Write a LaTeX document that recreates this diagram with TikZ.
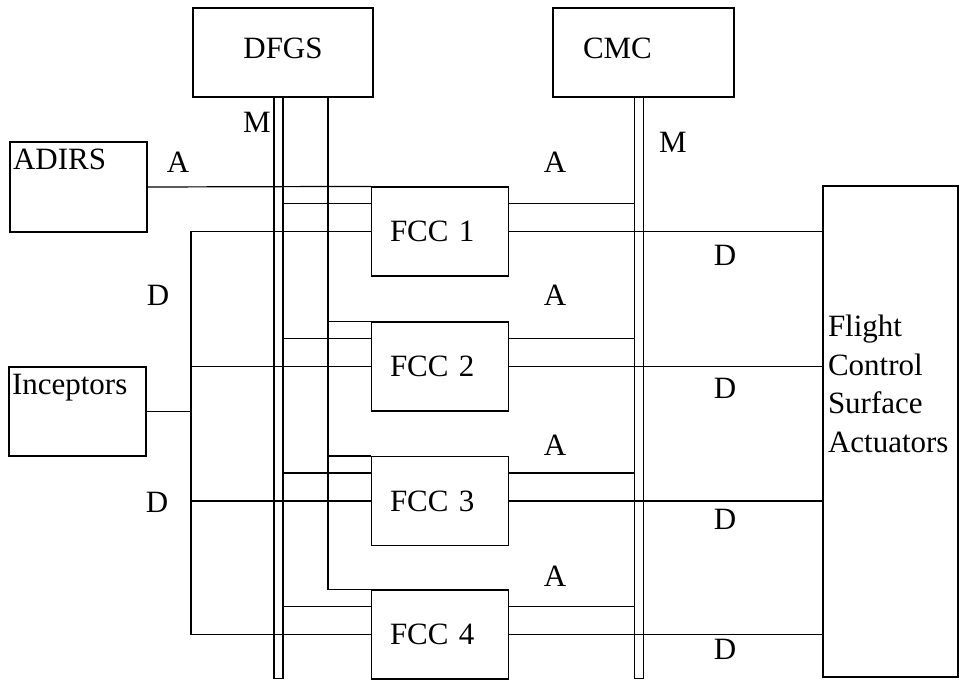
\documentclass[tikz,border=0pt]{standalone}
\usepackage{fontspec}
\setmainfont{Liberation Serif}
\usepackage{tikz}
\usetikzlibrary{positioning, calc}
\tikzset{>=latex}
\tikzset{font=\fontsize{15.5}{19.3}\selectfont}
\tikzset{unit/.style={draw, rectangle, inner sep=0pt},
  fcc/.style={unit, text width=50pt, align=left, inner xsep=9.25pt,
    minimum height=44.5pt},
  toplabel/.style={anchor=north west, inner xsep=1.5pt, inner ysep=3.5pt}}

\begin{document}
\begin{tikzpicture}[x=0.5pt, y=-0.5pt, line width=0.6pt]
  \useasboundingbox (0,0) rectangle (960,682);
  % monitoring and guidance units
  \node[unit, minimum width=90pt, minimum height=44.5pt, text depth=4pt] (dfgs) at (283,52.5) {DFGS};
  \node[unit, text width=60.5pt, inner xsep=15pt, align=left, text depth=4pt,
    minimum height=44.5pt] (cmc) at (643.5,52.5) {CMC};
  % sensors
  \node[unit, minimum width=68.5pt, minimum height=45pt,
    label={[toplabel]north west:ADIRS}] (adirs) at (78.5,187) {};
  \node[unit, minimum width=68.5pt, minimum height=44.5pt,
    label={[toplabel]north west:Inceptors}] (incep) at (77.5,411.5) {};
  % actuators
  \node[unit, minimum width=67.5pt, minimum height=245.5pt,
    label={[anchor=north west, align=left, inner sep=0pt, xshift=2.5pt,
      yshift=-64.5pt]north west:Flight\\Control\\Surface\\Actuators}] (fcsa) at (890.5,431.5) {};
  % flight control computers
  \foreach \i/\y in {1/231.5, 2/366.5, 3/501, 4/634.5}
    \node[fcc] (fcc\i) at (440,\y) {FCC \i};

  % bus and signal labels
  \node (m1) at (257,122) {M};
  \node (m2) at (673,142) {M};
  \node (a0) at (178,162) {A};
  \foreach \y [count=\i] in {162,295,445,576}
    \node (a\i) at (555,\y) {A};
  \node (d0) at (158,295) {D};
  \node (d5) at (157,502) {D};
  \foreach \y [count=\i] in {255,388,519,649}
    \node (d\i) at (725,\y) {D};

  % maintenance buses
  \coordinate (dbus) at ($(dfgs.south)+(-9,0)$);
  \coordinate (dbusend) at ($(dfgs.south)+(0,581)$);
  \draw (dbus) |- (dbusend) -- (dfgs.south);
  \coordinate (cbus) at ($(cmc.south)+(-9,0)$);
  \coordinate (cbusend) at ($(cmc.south)+(0,581)$);
  \draw (cbus) |- (cbusend) -- (cmc.south);
  % analogue line from DFGS
  \coordinate (dana) at ($(dfgs.south)+(45,0)$);
  \draw (dana) |- (fcc4.north west);
  \draw (adirs.east) -- (fcc1.north west);
  % discrete lines from inceptors
  \coordinate (dbot) at ($(fcc4.west)+(-180,0)$);
  \draw (fcc1.west) -| (dbot) -- (fcc4.west);
  \draw (incep.east) -- (incep.east -| dbot);
  \foreach \i in {1,...,4} {
    \coordinate (ml\i) at ([yshift=-8.5pt]fcc\i.north west);
    \coordinate (mr\i) at ([yshift=-8.5pt]fcc\i.north east);
    \draw (ml\i) -- (ml\i -| dfgs.south);
    \draw (mr\i) -- (mr\i -| cbus);
    \draw (fcc\i.east) -- (fcc\i.east -| fcsa.west);
  }
  \foreach \i in {2,3} {
    \draw (fcc\i.west) -- (fcc\i.west -| dbot);
    \draw (fcc\i.north west) -- (fcc\i.north west -| dana);
  }
\end{tikzpicture}
\end{document}
